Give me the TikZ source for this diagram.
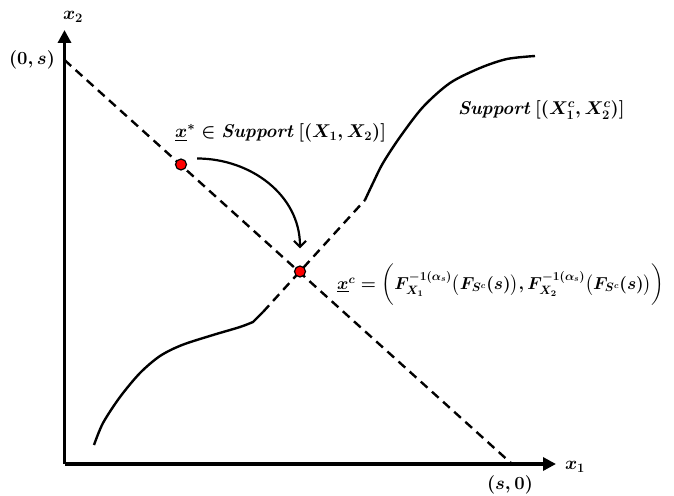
\RequirePackage{fix-cm}
\documentclass[tikz,border=0pt]{standalone}
\usepackage{amsmath,amssymb}
\usepackage{bm}
\usetikzlibrary{arrows.meta,positioning}
\definecolor{cdot}{HTML}{FF0000}
\tikzset{
  axis/.style={line width=3.8pt, -{Triangle[length=13pt,width=13pt]}},
  supp/.style={line width=2.4pt},
  tie/.style={line width=2.4pt, dash pattern=on 9pt off 6pt},
  move/.style={line width=2.2pt, -{Straight Barb[length=6pt,width=12pt,line width=2.2pt]}},
  pt/.style={circle, draw=black, line width=1.2pt, fill=cdot, inner sep=0pt, minimum size=11pt},
  lbl/.style={font=\fontsize{18.5}{22}\selectfont\boldmath, inner sep=1pt},
}

\begin{document}
\begin{tikzpicture}[x=1pt,y=-1pt]
\useasboundingbox (0,0) rectangle (674,495);
% axes
\coordinate (O) at (64.5,464);
\coordinate (x1tip) at (556,464);
\coordinate (x2tip) at (64.5,30);
\draw[axis] (O) -- (x1tip);
\draw[axis] (O) -- (x2tip);
\node[lbl] (x1) at (575,467) {$x_1$};
\node[lbl] (x2) at (73,17) {$x_2$};
% budget line
\coordinate (A) at (64.5,60);
\coordinate (B) at (512,464);
\node[lbl] (A-lbl) at (32,60) {$(0,s)$};
\node[lbl] (B-lbl) at (510,485) {$(s,0)$};
\draw[tie] (A) -- (B);
% supports
\coordinate (L0) at (94,445);
\coordinate (L1) at (253,322);
\coordinate (L2) at (263,312);
\coordinate (U0) at (365,200);
\coordinate (U1) at (535,56);
\draw[supp] plot[smooth, tension=0.5] coordinates {(L0) (103,423) (120,397) (140,373) (160,356) (182,345) (213,335) (240,327) (L1)} -- (L2);
\draw[tie] (L2) -- (U0);
\draw[supp] plot[smooth, tension=0.5] coordinates {(U0) (373,183) (383,163) (400,137) (423,107) (450,83) (480,68) (507,59) (U1)};
% points
\node[pt] (xstar) at (181,164.5) {};
\node[pt] (xc) at (300,271.5) {};
\draw[move] ([xshift=10pt,yshift=6pt]xstar.east) to[out=0,in=90] ([yshift=17pt]xc.north);
% labels
\node[lbl, anchor=west] (xstar-lbl) at (174,133) {$\underline{x}^{*}\in \mathit{Support}\,[(X_1,X_2)]$};
\node[lbl, anchor=west] (supp-lbl) at (457,110) {$\mathit{Support}\,[(X^c_1,X^c_2)]$};
\node[lbl, anchor=west, font=\fontsize{17.3}{21}\selectfont\boldmath] (xc-lbl) at (336,285)
  {$\underline{x}^{c}=\biggl(F^{-1(\alpha_s)}_{X_1}\bigl(F_{S^c}(s)\bigr),F^{-1(\alpha_s)}_{X_2}\bigl(F_{S^c}(s)\bigr)\biggr)$};
\end{tikzpicture}
\end{document}
